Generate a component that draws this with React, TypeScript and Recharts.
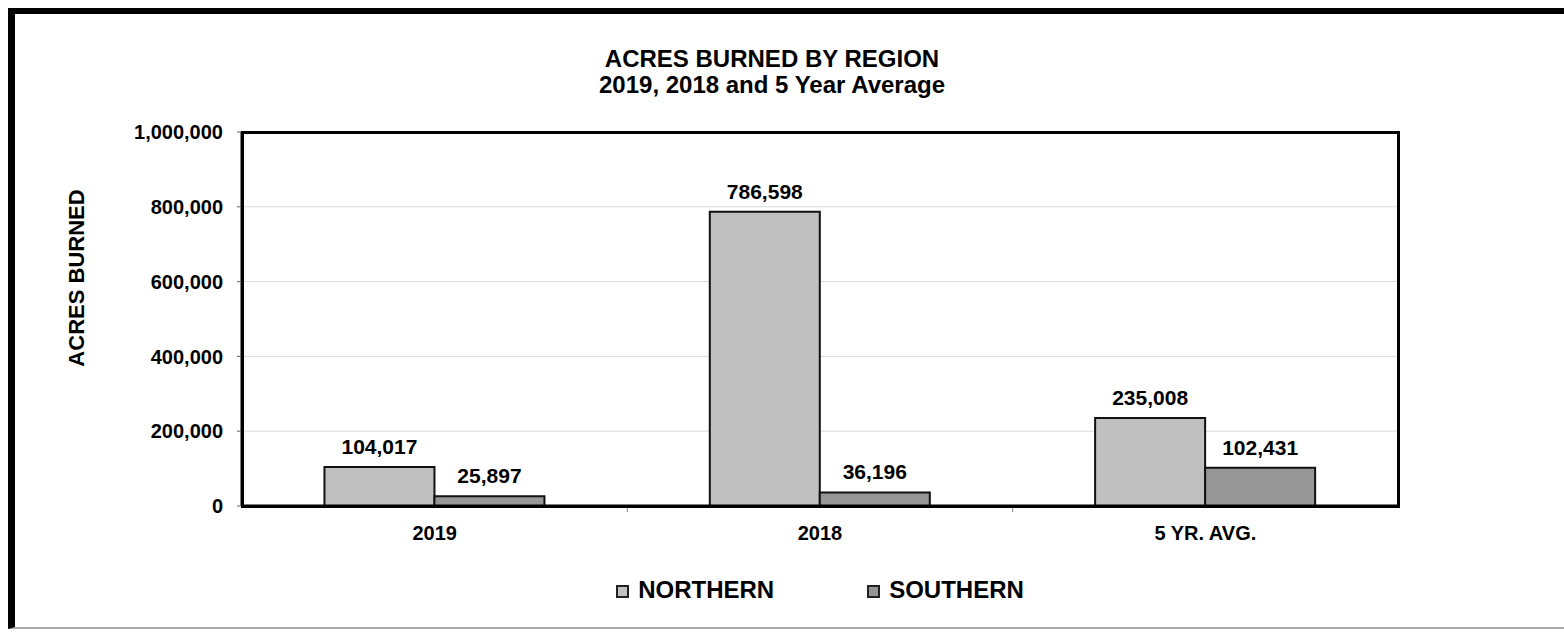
import React from 'react';
import { BarChart, Bar, XAxis, YAxis, CartesianGrid, Legend, LabelList } from 'recharts';

const categories = ['2019', '2018', '5 YR. AVG.'];
const northern = [104017, 786598, 235008];
const southern = [25897, 36196, 102431];
const yTicks = [0, 200000, 400000, 600000, 800000, 1000000];

const FONT = '"Liberation Sans", Arial, Helvetica, sans-serif';
const W = 1564;
const H = 639;
const PLOT = { left: 242, top: 132, right: 1398, bottom: 506 };
const BAND = (PLOT.right - PLOT.left) / categories.length;

const data = categories.map((name, i) => ({
  name,
  northern: northern[i],
  southern: southern[i],
}));

const fmt = (v: number) => Number(v).toLocaleString('en-US');

const XTick = ({ x, y, payload, index }: any) => (
  <g>
    <text x={x} y={y + 34} textAnchor="middle" fontFamily={FONT} fontWeight="bold" fontSize={20} fill="#000">
      {payload.value}
    </text>
    {index < categories.length - 1 && (
      <line x1={x + BAND / 2} x2={x + BAND / 2} y1={y} y2={y + 6} stroke="#888" strokeWidth={1} />
    )}
  </g>
);

const YLabel = () => (
  <text
    x={84}
    y={278}
    transform="rotate(-90 84 278)"
    textAnchor="middle"
    fontFamily={FONT}
    fontWeight="bold"
    fontSize={22}
    fill="#000"
  >
    ACRES BURNED
  </text>
);

const LegendBox = () => {
  const items = [
    { label: 'NORTHERN', color: '#c0c0c0' },
    { label: 'SOUTHERN', color: '#969696' },
  ];
  return (
    <div style={{ display: 'flex', justifyContent: 'center', gap: 93, fontFamily: FONT }}>
      {items.map((it) => (
        <div key={it.label} style={{ display: 'flex', alignItems: 'center', gap: 9 }}>
          <span
            style={{
              display: 'inline-block',
              width: 9,
              height: 9,
              background: it.color,
              border: '2px solid #222',
              marginTop: 3,
            }}
          />
          <span style={{ fontSize: 24, fontWeight: 'bold', lineHeight: '24px', color: '#000' }}>{it.label}</span>
        </div>
      ))}
    </div>
  );
};

export default function App() {
  return (
    <div style={{ position: 'absolute', left: 0, top: 0, width: W, height: H, background: '#fff', overflow: 'hidden' }}>
      <div
        style={{
          position: 'absolute',
          left: 8,
          top: 8,
          width: W,
          height: 621,
          borderTop: '6px solid #000',
          borderLeft: '7px solid #000',
          borderBottom: '2px solid #aaa',
          boxSizing: 'border-box',
        }}
      />
      <div
        style={{
          position: 'absolute',
          left: 572,
          top: 46,
          width: 400,
          textAlign: 'center',
          fontFamily: FONT,
          fontWeight: 'bold',
          fontSize: 24,
          lineHeight: '26px',
          color: '#000',
          whiteSpace: 'nowrap',
        }}
      >
        <div>ACRES BURNED BY REGION</div>
        <div>2019, 2018 and 5 Year Average</div>
      </div>
      <div style={{ position: 'absolute', left: 0, top: 0 }}>
        <BarChart
          width={W}
          height={H}
          data={data}
          margin={{ top: PLOT.top, right: W - PLOT.right, bottom: H - PLOT.bottom - 40, left: PLOT.left - 100 }}
          barCategoryGap="21.4%"
          barGap={0}
        >
          <CartesianGrid horizontal vertical={false} stroke="#d9d9d9" strokeWidth={1} />
          <XAxis
            dataKey="name"
            height={40}
            axisLine={{ stroke: '#000', strokeWidth: 3 }}
            tickLine={false}
            tickSize={0}
            tickMargin={0}
            tick={<XTick />}
            interval={0}
          />
          <YAxis
            width={100}
            domain={[0, 1000000]}
            ticks={yTicks}
            tickFormatter={fmt}
            axisLine={{ stroke: '#000', strokeWidth: 3 }}
            tickLine={{ stroke: '#666', strokeWidth: 1 }}
            tickSize={5}
            tickMargin={14}
            tick={{ fontFamily: FONT, fontWeight: 'bold', fontSize: 20, fill: '#000' }}
            label={<YLabel />}
          />
          <Legend
            verticalAlign="middle"
            align="center"
            wrapperStyle={{ top: 578, left: PLOT.left, width: PLOT.right - PLOT.left }}
            content={<LegendBox />}
          />
          <Bar dataKey="northern" name="NORTHERN" fill="#c0c0c0" stroke="#111" strokeWidth={2} isAnimationActive={false}>
            <LabelList
              dataKey="northern"
              position="top"
              offset={13}
              formatter={fmt}
              style={{ fontFamily: FONT, fontWeight: 'bold', fontSize: 21, fill: '#000' }}
            />
          </Bar>
          <Bar dataKey="southern" name="SOUTHERN" fill="#969696" stroke="#111" strokeWidth={2} isAnimationActive={false}>
            <LabelList
              dataKey="southern"
              position="top"
              offset={13}
              formatter={fmt}
              style={{ fontFamily: FONT, fontWeight: 'bold', fontSize: 21, fill: '#000' }}
            />
          </Bar>
        </BarChart>
      </div>
      {/* plot area frame */}
      <div
        style={{
          position: 'absolute',
          left: PLOT.left - 1.5,
          top: PLOT.top - 1.5,
          width: PLOT.right - PLOT.left + 3,
          height: PLOT.bottom - PLOT.top + 3,
          border: '3px solid #000',
          boxSizing: 'border-box',
          pointerEvents: 'none',
        }}
      />
    </div>
  );
}
